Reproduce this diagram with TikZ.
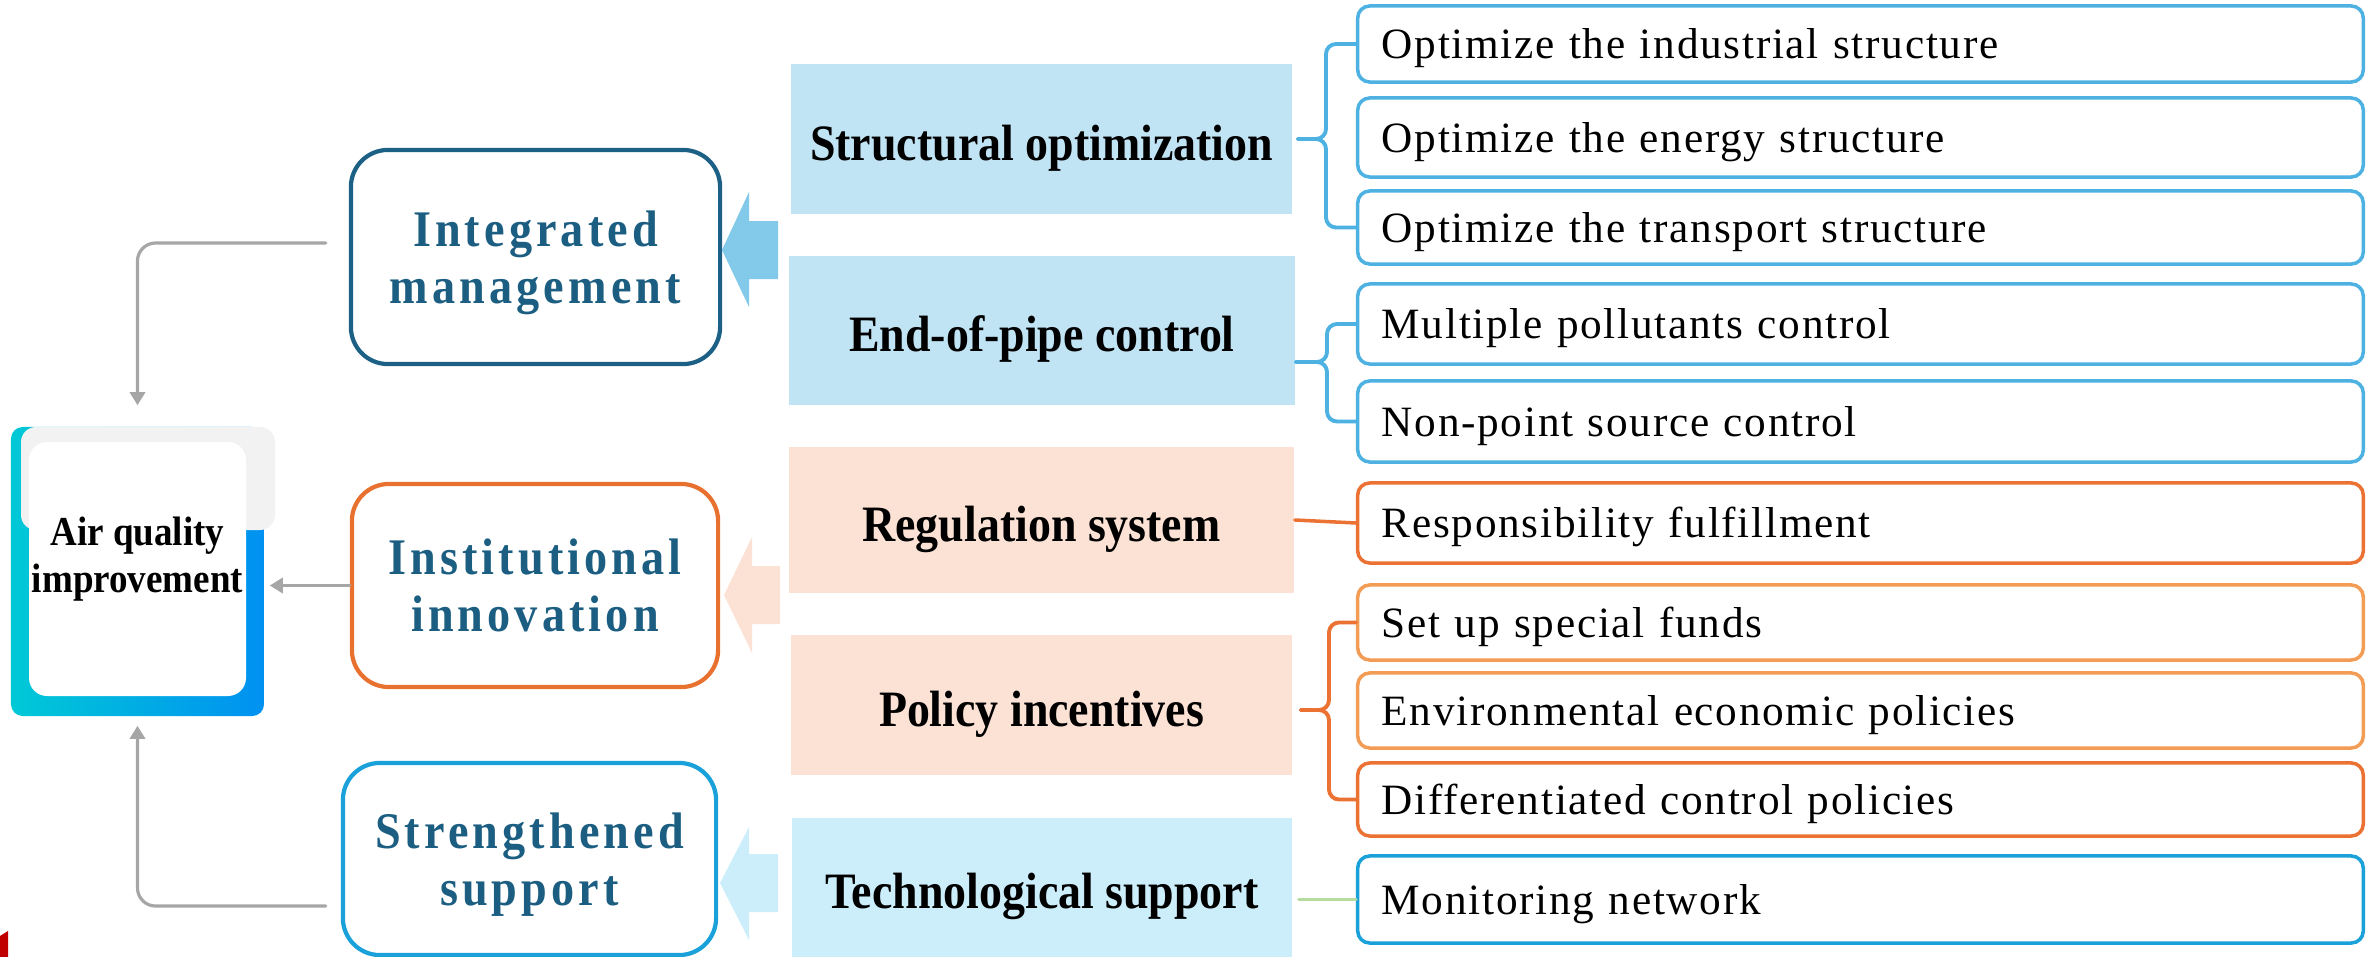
\documentclass[tikz,border=0pt]{standalone}
\usepackage{fontspec}
\setmainfont{Liberation Serif}
\newfontfamily\headfont[FakeStretch=0.9,LetterSpace=8]{Liberation Serif}
\newfontfamily\catfont[FakeStretch=0.9]{Liberation Serif}
\newfontfamily\itemfont[LetterSpace=4]{Liberation Serif}
\usetikzlibrary{arrows.meta}
\begin{document}
\begin{tikzpicture}[x=0.01cm,y=-0.01cm,line cap=round,
  hbox/.style={draw,rounded corners=0.37cm,line width=1.2pt,fill=white,align=center,inner sep=0pt,
    text depth=0pt,text=headteal,font=\headfont\bfseries\fontsize{14.6}{16.2}\selectfont},
  catbox/.style={inner sep=0pt,text height=12.2pt,text depth=0pt,
    font=\catfont\bfseries\fontsize{14.5}{16}\selectfont},
  itembox/.style={draw,rounded corners=0.12cm,line width=1pt,fill=white,inner xsep=0.24cm,inner ysep=0pt,
    text width=9.57cm,align=left,text height=8.5pt,text depth=0pt,
    font=\itemfont\fontsize{12.3}{14}\selectfont},
  airtext/.style={align=center,inner sep=0pt,font=\catfont\bfseries\fontsize{11.7}{13.4}\selectfont},
  link/.style={draw=linkgray,line width=0.9pt,rounded corners=0.18cm,-{Triangle[length=3.7pt,width=4.3pt]}},
  brace/.style={line width=1.1pt,rounded corners=0.1cm}]
\definecolor{headteal}{HTML}{1B5E82}
\definecolor{integblue}{HTML}{1D6086}
\definecolor{instorange}{HTML}{E9712F}
\definecolor{strengblue}{HTML}{1BA1DA}
\definecolor{catblue}{HTML}{C1E4F5}
\definecolor{catpeach}{HTML}{FBE2D5}
\definecolor{techblue}{HTML}{CCEDFA}
\definecolor{arrowblue}{HTML}{83CAEA}
\definecolor{arrowlight}{HTML}{CCEEFB}
\definecolor{itemblue}{HTML}{4DB2E2}
\definecolor{itemorange}{HTML}{EB7232}
\definecolor{itemlight}{HTML}{F29C55}
\definecolor{greenline}{HTML}{B4DCA0}
\definecolor{linkgray}{HTML}{A6A6A6}
\definecolor{airgray}{HTML}{F2F2F2}
\definecolor{aircyan}{HTML}{00C9D6}
\definecolor{airblue}{HTML}{0091F1}
\definecolor{redmark}{HTML}{C00000}
\useasboundingbox (0,0) rectangle (2374,957);
\node[minimum width=2.53cm,minimum height=2.89cm,rounded corners=0.12cm,left color=aircyan,right color=airblue,inner sep=0pt] (air) at (137.5,571.5) {};
\fill[airgray,rounded corners=0.15cm] (21,427) rectangle (275,530);
\fill[white,rounded corners=0.18cm] (29,442) rectangle (246,696);
\node[airtext] (airtxt) at (137.5,559.5) {Air quality\\improvement};
\node[hbox,draw=integblue,minimum width=3.69cm,minimum height=2.14cm] (integ) at (535.5,257) {Integrated\\management};
\node[hbox,draw=instorange,minimum width=3.66cm,minimum height=2.03cm] (instit) at (535,585.5) {Institutional\\innovation};
\node[hbox,draw=strengblue,minimum width=3.73cm,minimum height=1.92cm] (streng) at (529.5,859) {Strengthened\\support};
\fill[arrowblue] (778,221) -- (749,221) -- (749,192) -- (722,250) -- (749,307) -- (749,279) -- (778,279) -- cycle;
\fill[catpeach] (780,566) -- (752,566) -- (752,537) -- (724,595) -- (752,653) -- (752,624) -- (780,624) -- cycle;
\fill[arrowlight] (778,854) -- (749,854) -- (749,827) -- (720,883) -- (749,940) -- (749,912) -- (778,912) -- cycle;
\node[catbox,fill=catblue,minimum width=5.01cm,minimum height=1.50cm] (struct) at (1041.5,139) {Structural optimization};
\node[catbox,fill=catblue,minimum width=5.06cm,minimum height=1.49cm] (endpipe) at (1042,330.5) {End-of-pipe control};
\node[catbox,fill=catpeach,minimum width=5.05cm,minimum height=1.46cm] (regul) at (1041.5,520) {Regulation system};
\node[catbox,fill=catpeach,minimum width=5.01cm,minimum height=1.40cm] (policy) at (1041.5,705) {Policy incentives};
\node[catbox,fill=techblue,minimum width=5.00cm,minimum height=1.39cm] (techno) at (1042,887.5) {Technological support};
\node[itembox,draw=itemblue,minimum height=0.76cm] (o1) at (1860.5,44) {Optimize the industrial structure};
\node[itembox,draw=itemblue,minimum height=0.79cm] (o2) at (1860.5,137.5) {Optimize the energy structure};
\node[itembox,draw=itemblue,minimum height=0.73cm] (o3) at (1860.5,227.5) {Optimize the transport structure};
\node[itembox,draw=itemblue,minimum height=0.80cm] (o4) at (1860.5,324) {Multiple pollutants control};
\node[itembox,draw=itemblue,minimum height=0.81cm] (o5) at (1860.5,421.5) {Non-point source control};
\node[itembox,draw=itemorange,minimum height=0.80cm] (o6) at (1860.5,523) {Responsibility fulfillment};
\node[itembox,draw=itemlight,minimum height=0.75cm] (o7) at (1860.5,622.5) {Set up special funds};
\node[itembox,draw=itemlight,minimum height=0.75cm] (o8) at (1860.5,710.5) {Environmental economic policies};
\node[itembox,draw=itemorange,minimum height=0.73cm] (o9) at (1860.5,799.5) {Differentiated control policies};
\node[itembox,draw=strengblue,minimum height=0.87cm] (o10) at (1860.5,899.5) {Monitoring network};
\draw[link,shorten >=0.21cm] ([xshift=-0.23cm,yshift=0.14cm]integ.west) -| (air.north);
\draw[link,shorten >=0.05cm] (instit.west) -- (instit.west -| air.east);
\draw[link,shorten >=0.09cm] ([xshift=-0.15cm,yshift=-0.47cm]streng.west) -| (air.south);
\coordinate (b1) at (1326,139);
\coordinate (b2) at (1327,362);
\coordinate (b3) at (1329,710);
\draw[brace,draw=itemblue] (o1.west) -| (b1) -- ([xshift=0.05cm]struct.east);
\draw[brace,draw=itemblue] (o3.west) -| (b1) -- ([xshift=0.05cm]struct.east);
\draw[brace,draw=itemblue] (o4.west) -| (b2) -- (b2 -| endpipe.east);
\draw[brace,draw=itemblue] (o5.west) -| (b2) -- (b2 -| endpipe.east);
\draw[brace,draw=itemorange] (o7.west) -| (b3) -- ([xshift=0.08cm]b3 -| policy.east);
\draw[brace,draw=itemorange] (o9.west) -| (b3) -- ([xshift=0.08cm]b3 -| policy.east);
\draw[line width=1pt,draw=itemorange] (regul.east) -- (o6.west);
\draw[line width=1pt,draw=greenline] (o10.west) -- ([xshift=0.06cm]o10.west -| techno.east);
\fill[redmark] (0,936) -- (8,931) -- (8,957) -- (0,957) -- cycle;
\end{tikzpicture}
\end{document}
